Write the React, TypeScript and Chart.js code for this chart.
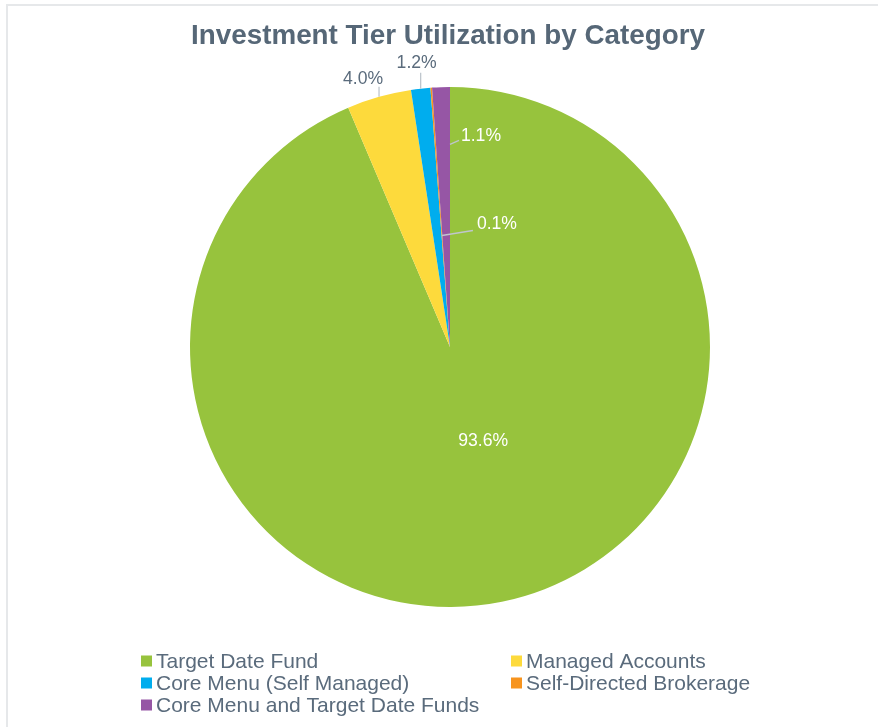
import React, { useEffect, useRef } from "react";
import { Chart, registerables } from "chart.js";

Chart.register(...registerables);

const categories = [
  "Target Date Fund",
  "Managed Accounts",
  "Core Menu (Self Managed)",
  "Self-Directed Brokerage",
  "Core Menu and Target Date Funds",
];
const values = [93.6, 4.0, 1.2, 0.1, 1.1];
const valueLabels = ["93.6%", "4.0%", "1.2%", "0.1%", "1.1%"];
const colors = ["#97C33D", "#FDDA3C", "#00ADEE", "#F7941E", "#9656A5"];
const titleText = "Investment Tier Utilization by Category";

// label placement config: anchor radius fraction, leader (start offset, end offset), label offsets (px)
type LabelCfg = {
  r: number;
  leader: null | { sx: number; sy: number; dx: number; dy: number };
  tx: number;
  ty: number;
  color: string;
};
const labelCfg: LabelCfg[] = [
  { r: 0.37, leader: null, tx: 14, ty: 0, color: "#FFFFFF" },
  { r: 1.0, leader: { sx: 0, sy: 0, dx: 0, dy: -10 }, tx: -16, ty: -18, color: "#5A6B7C" },
  { r: 1.0, leader: { sx: 0, sy: 0, dx: 0, dy: -16 }, tx: -4, ty: -26, color: "#5A6B7C" },
  { r: 0.43, leader: { sx: 0, sy: 0, dx: 31, dy: -5 }, tx: 55, ty: -11, color: "#FFFFFF" },
  { r: 0.78, leader: { sx: 7, sy: 0, dx: 16, dy: -4 }, tx: 38, ty: -8, color: "#FFFFFF" },
];

const FONT = "'Liberation Sans', Arial, sans-serif";

const drawPlugin = {
  id: "customDraw",
  afterDatasetsDraw(chart: any) {
    const ctx = chart.ctx;
    const meta = chart.getDatasetMeta(0);
    ctx.save();
    meta.data.forEach((arc: any, i: number) => {
      const { x, y, startAngle, endAngle, outerRadius } = arc.getProps(
        ["x", "y", "startAngle", "endAngle", "outerRadius"],
        true
      );
      const mid = (startAngle + endAngle) / 2;
      const cfg = labelCfg[i];
      const ax = x + Math.cos(mid) * outerRadius * cfg.r;
      const ay = y + Math.sin(mid) * outerRadius * cfg.r;
      if (cfg.leader) {
        ctx.strokeStyle = "#BFC6CD";
        ctx.lineWidth = 1.3;
        ctx.beginPath();
        ctx.moveTo(ax + cfg.leader.sx, ay + cfg.leader.sy);
        ctx.lineTo(ax + cfg.leader.dx, ay + cfg.leader.dy);
        ctx.stroke();
      }
      ctx.fillStyle = cfg.color;
      ctx.font = `17.6px ${FONT}`;
      ctx.textAlign = "center";
      ctx.textBaseline = "middle";
      ctx.fillText(valueLabels[i], ax + cfg.tx, ay + cfg.ty);
    });
    ctx.restore();
  },
  afterDraw(chart: any) {
    const ctx = chart.ctx;
    const w = chart.width;
    const h = chart.height;
    ctx.save();
    // frame
    ctx.strokeStyle = "#E6E8EA";
    ctx.lineWidth = 2;
    ctx.beginPath();
    ctx.moveTo(7, h);
    ctx.lineTo(7, 5);
    ctx.lineTo(w, 5);
    ctx.stroke();
    // title
    ctx.fillStyle = "#566777";
    ctx.font = `bold 27.8px ${FONT}`;
    ctx.textAlign = "center";
    ctx.textBaseline = "alphabetic";
    ctx.fillText(titleText, 448, 44);
    // legend
    const colX = [141, 511];
    const rowY = [661, 683, 705];
    ctx.font = `21px ${FONT}`;
    ctx.textAlign = "left";
    ctx.textBaseline = "middle";
    categories.forEach((c, i) => {
      const cx = colX[i % 2];
      const cy = rowY[Math.floor(i / 2)];
      ctx.fillStyle = colors[i];
      ctx.fillRect(cx, cy - 5.5, 11, 11);
      ctx.fillStyle = "#5A6B7C";
      ctx.fillText(c, cx + 15, cy + 1);
    });
    ctx.restore();
  },
};

export default function App() {
  const ref = useRef<HTMLCanvasElement>(null);
  useEffect(() => {
    document.body.style.margin = "0";
    const chart = new Chart(ref.current!, {
      type: "pie",
      data: {
        labels: categories,
        datasets: [
          {
            data: values,
            backgroundColor: colors,
            borderWidth: 0,
          },
        ],
      },
      options: {
        responsive: false,
        animation: false,
        layout: { padding: { top: 87, bottom: 120, left: 30, right: 8 } },
        plugins: {
          legend: { display: false },
          tooltip: { enabled: false },
          title: { display: false },
        },
      },
      plugins: [drawPlugin],
    });
    return () => chart.destroy();
  }, []);
  return (
    <div style={{ width: 878, height: 727, background: "#fff" }}>
      <canvas ref={ref} width={878} height={727} style={{ display: "block" }} />
    </div>
  );
}
